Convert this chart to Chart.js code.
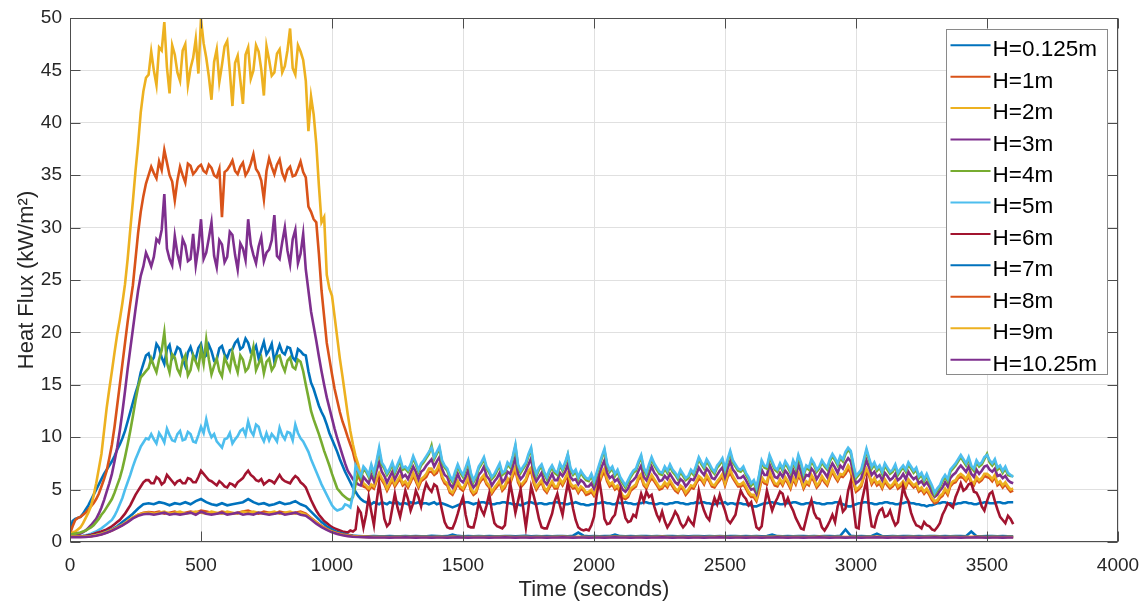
<!DOCTYPE html>
<html>
<head>
<meta charset="utf-8">
<title>Heat Flux</title>
<script src="https://cdn.jsdelivr.net/npm/chart.js@4.4.1/dist/chart.umd.min.js"></script>
<style>
  html, body { margin: 0; padding: 0; background: #ffffff; }
  #wrap { position: relative; width: 1145px; height: 603px; }
</style>
</head>
<body>
<div id="wrap"><canvas id="c" width="1145" height="603"></canvas></div>
<script>
// Main readings every 20 s (0..3600 s); the noisy gauges also carry a reading
// half way between, every 20 s from 10 s to 3590 s
const times = Array.from({ length: 181 }, (_, i) => i * 20);
const midTimes = Array.from({ length: 180 }, (_, j) => j * 20 + 10);

const xTicks = [0, 500, 1000, 1500, 2000, 2500, 3000, 3500, 4000];
const yTicks = [0, 5, 10, 15, 20, 25, 30, 35, 40, 45, 50];

const seriesLabels = ['H=0.125m', 'H=1m', 'H=2m', 'H=3m', 'H=4m', 'H=5m',
                      'H=6m', 'H=7m', 'H=8m', 'H=9m', 'H=10.25m'];

// ---- heat flux readings (kW/m²) ----
const h0125 = [
  0.8, 2.2, 2.4, 3.1, 4.0, 5.0, 6.0, 6.9, 7.7, 8.8,
  9.9, 11.5, 13.3, 15.0, 17.0, 18.0, 17.6, 18.5, 17.0, 18.8,
  17.9, 18.4, 16.8, 18.6, 17.5, 18.9, 17.8, 18.2, 17.4, 18.7,
  17.6, 18.4, 19.3, 18.6, 19.0, 18.2, 17.5, 19.1, 18.3, 17.2,
  18.8, 17.9, 18.5, 17.3, 18.2, 17.8, 15.2, 13.8, 12.4, 11.2,
  9.8, 8.6, 7.3, 6.2, 5.2, 4.4, 3.9, 3.7, 3.8, 3.6,
  3.7, 3.8, 3.7, 3.6, 3.7, 3.8, 3.7, 3.6, 3.7, 3.7,
  3.6, 3.7, 3.5, 3.3, 3.5, 3.7, 3.8, 3.6, 3.7, 3.8,
  3.7, 3.6, 3.7, 3.8, 3.7, 3.6, 3.5, 3.7, 3.8, 3.6,
  3.7, 3.6, 3.7, 3.8, 3.7, 3.6, 3.7, 3.7, 3.6, 3.5,
  3.6, 3.7, 3.8, 3.7, 3.6, 3.7, 3.8, 3.7, 3.6, 3.7,
  3.8, 3.7, 3.6, 3.7, 3.6, 3.7, 3.8, 3.7, 3.6, 3.7,
  3.7, 3.8, 3.7, 3.6, 3.7, 3.8, 3.7, 3.6, 3.7, 3.6,
  3.5, 3.4, 3.6, 3.7, 3.8, 3.7, 3.6, 3.7, 3.8, 3.7,
  3.6, 3.7, 3.8, 3.7, 3.6, 3.7, 3.8, 3.7, 3.5, 3.4,
  3.6, 3.7, 3.8, 3.7, 3.6, 3.7, 3.8, 3.7, 3.6, 3.7,
  3.8, 3.7, 3.6, 3.5, 3.5, 3.6, 3.7, 3.8, 3.7, 3.6,
  3.7, 3.8, 3.7, 3.6, 3.7, 3.8, 3.7, 3.8, 3.7, 3.8,
  3.8
];
const h0125Mid = [
  2.0, 2.3, 2.7, 3.5, 4.5, 5.5, 6.5, 7.3, 8.2, 9.3,
  10.6, 12.4, 14.2, 16.2, 17.8, 17.2, 18.9, 17.6, 18.4, 17.5,
  18.6, 17.5, 18.1, 17.8, 18.5, 17.6, 18.8, 17.3, 18.5, 17.9,
  18.3, 19.0, 18.4, 19.4, 18.1, 18.7, 18.3, 17.9, 18.9, 18.1,
  18.1, 18.6, 17.6, 18.4, 17.9, 16.3, 14.6, 13.0, 11.9, 10.4,
  9.2, 7.9, 6.7, 5.7, 4.8, 4.1, 3.8, 3.6, 3.7, 3.8,
  3.6, 3.7, 3.8, 3.7, 3.6, 3.7, 3.8, 3.7, 3.6, 3.8,
  3.7, 3.6, 3.4, 3.4, 3.6, 3.8, 3.7, 3.7, 3.8, 3.7,
  3.6, 3.7, 3.8, 3.7, 3.6, 3.6, 3.6, 3.8, 3.7, 3.7,
  3.6, 3.7, 3.8, 3.7, 3.6, 3.7, 3.8, 3.6, 3.5, 3.6,
  3.7, 3.8, 3.7, 3.6, 3.8, 3.7, 3.7, 3.6, 3.7, 3.8,
  3.7, 3.6, 3.7, 3.6, 3.7, 3.8, 3.7, 3.6, 3.7, 3.8,
  3.8, 3.7, 3.6, 3.7, 3.7, 3.6, 3.7, 3.7, 3.6, 3.5,
  3.4, 3.5, 3.7, 3.8, 3.7, 3.6, 3.7, 3.7, 3.8, 3.6,
  3.7, 3.8, 3.7, 3.6, 3.7, 3.7, 3.8, 3.6, 3.4, 3.5,
  3.7, 3.8, 3.7, 3.6, 3.7, 3.8, 3.7, 3.6, 3.7, 3.8,
  3.7, 3.6, 3.5, 3.4, 3.5, 3.7, 3.8, 3.7, 3.6, 3.7,
  3.8, 3.7, 3.6, 3.7, 3.8, 3.7, 3.7, 3.8, 3.7, 3.8
];

const h1 = [
  0.8, 2.1, 2.4, 2.8, 3.4, 4.1, 5.3, 6.8, 9.3, 13.0,
  17.0, 21.0, 24.5, 29.5, 33.0, 35.0, 35.2, 36.3, 37.4, 35.0,
  32.6, 35.8, 34.3, 35.9, 35.4, 36.0, 35.2, 35.7, 34.8, 31.0,
  35.5, 36.4, 35.1, 36.2, 35.4, 37.0, 35.2, 32.7, 36.6, 35.1,
  36.5, 34.6, 35.8, 35.0, 36.3, 34.8, 31.5, 30.5, 24.0, 19.0,
  16.0, 13.5, 11.5, 10.0, 8.6, 6.3, 5.3, 4.9, 5.1, 6.3,
  5.5, 5.4, 5.3, 6.0, 5.6, 5.7, 5.8, 5.8, 6.2, 6.7,
  6.6, 6.1, 5.4, 4.5, 5.6, 4.9, 6.0, 4.5, 5.5, 6.1,
  5.2, 5.0, 5.7, 5.2, 5.6, 6.9, 5.2, 5.8, 6.8, 5.0,
  5.7, 4.7, 5.6, 5.1, 5.4, 6.3, 5.1, 4.7, 4.9, 4.6,
  4.4, 5.6, 6.7, 5.3, 5.0, 4.7, 4.1, 4.9, 5.3, 6.2,
  5.1, 6.1, 5.4, 5.1, 5.2, 5.3, 4.7, 5.0, 4.8, 5.1,
  6.0, 5.5, 5.8, 5.2, 5.9, 5.4, 6.6, 5.7, 5.3, 5.1,
  4.3, 3.9, 6.0, 5.5, 5.9, 5.3, 5.4, 5.6, 6.0, 6.3,
  5.1, 5.4, 5.8, 5.5, 5.7, 6.1, 6.2, 6.3, 6.5, 6.6,
  4.8, 5.3, 6.7, 5.5, 5.4, 5.1, 5.4, 5.3, 5.1, 5.6,
  5.8, 5.2, 4.8, 4.6, 4.5, 3.7, 4.2, 4.9, 5.3, 5.7,
  6.2, 5.8, 5.6, 6.0, 5.9, 6.2, 5.8, 5.4, 5.2, 5.1,
  4.9
];
const h1Mid = [
  1.5, 2.3, 2.6, 3.1, 3.7, 4.6, 6.0, 8.0, 11.0, 15.0,
  19.0, 22.8, 27.0, 31.5, 34.2, 35.8, 34.7, 35.5, 36.2, 34.4,
  34.5, 35.0, 36.1, 35.1, 35.8, 35.4, 36.0, 35.0, 35.6, 35.3,
  35.9, 35.4, 35.8, 35.0, 36.1, 35.6, 34.5, 35.4, 35.8, 36.0,
  35.2, 35.5, 34.9, 35.6, 35.3, 32.0, 30.8, 27.5, 21.5, 17.5,
  14.6, 12.4, 10.8, 9.3, 7.6, 5.8, 5.2, 5.3, 5.8, 5.9,
  4.9, 5.9, 5.7, 5.4, 5.2, 6.3, 5.2, 6.0, 6.7, 6.4,
  7.2, 5.6, 4.7, 5.0, 5.1, 5.4, 4.9, 4.7, 5.9, 5.5,
  4.6, 5.3, 4.9, 5.8, 6.3, 5.7, 5.5, 6.5, 5.6, 5.4,
  5.0, 5.2, 5.1, 5.8, 5.9, 5.4, 5.2, 5.1, 4.5, 4.8,
  4.9, 6.3, 5.8, 5.5, 5.2, 4.2, 4.3, 5.1, 6.0, 5.4,
  5.7, 5.8, 5.0, 5.5, 5.7, 4.9, 5.2, 4.5, 5.2, 5.6,
  5.9, 6.2, 5.3, 5.6, 6.3, 6.2, 6.1, 5.3, 5.5, 4.6,
  4.3, 4.8, 5.6, 6.6, 5.4, 5.8, 6.0, 5.1, 5.5, 5.9,
  5.6, 6.2, 5.2, 6.1, 5.4, 6.7, 5.8, 6.2, 7.0, 5.7,
  5.0, 6.2, 6.3, 5.9, 5.6, 5.8, 5.1, 5.7, 5.3, 5.2,
  5.5, 5.4, 5.0, 4.9, 4.0, 3.8, 4.4, 4.5, 5.6, 6.1,
  6.1, 6.3, 5.4, 5.7, 6.3, 6.1, 6.2, 5.6, 5.5, 4.8
];

const h2 = [
  0.8, 1.0, 1.4, 2.3, 3.4, 5.6, 8.4, 12.8, 16.3, 19.8,
  22.8, 27.0, 32.5, 38.0, 43.0, 44.6, 45.0, 47.2, 49.6, 42.8,
  46.5, 44.0, 47.5, 45.2, 48.0, 49.9, 46.2, 42.2, 47.0, 45.5,
  47.8, 41.6, 46.4, 41.8, 47.2, 45.0, 46.8, 42.6, 46.0, 44.8,
  47.0, 45.4, 49.0, 44.6, 46.8, 44.0, 42.5, 38.0, 30.5, 25.5,
  23.5, 19.5, 15.8, 12.2, 9.3, 7.4, 5.6, 5.1, 5.3, 6.6,
  5.7, 5.6, 5.5, 6.3, 5.8, 5.9, 6.0, 6.0, 6.5, 7.0,
  6.9, 6.3, 5.6, 4.7, 5.8, 5.1, 6.2, 4.7, 5.7, 6.4,
  5.4, 5.2, 5.9, 5.4, 5.8, 7.2, 5.4, 6.0, 7.1, 5.2,
  5.9, 4.9, 5.8, 5.3, 5.6, 6.6, 5.3, 4.9, 5.1, 4.8,
  4.6, 5.8, 7.0, 5.5, 5.2, 4.9, 4.3, 5.1, 5.5, 6.5,
  5.3, 6.4, 5.6, 5.3, 5.4, 5.5, 4.9, 5.2, 5.0, 5.3,
  6.3, 5.7, 6.0, 5.4, 6.1, 5.6, 6.9, 5.9, 5.5, 5.3,
  4.5, 4.1, 6.2, 5.7, 6.1, 5.5, 5.6, 5.8, 6.2, 6.6,
  5.3, 5.6, 6.0, 5.7, 5.9, 6.3, 6.4, 6.5, 6.8, 6.9,
  5.0, 5.5, 7.0, 5.7, 5.6, 5.3, 5.6, 5.5, 5.3, 5.8,
  6.0, 5.4, 5.0, 4.8, 4.7, 3.9, 4.4, 5.1, 5.5, 5.9,
  6.5, 6.0, 5.8, 6.2, 6.1, 6.5, 6.0, 5.6, 5.4, 5.3,
  5.1
];
const h2Mid = [
  0.9, 1.2, 1.8, 2.8, 4.4, 7.0, 10.6, 14.6, 18.1, 21.2,
  24.6, 29.8, 35.4, 41.0, 44.3, 46.8, 43.6, 46.9, 45.3, 47.4,
  44.8, 46.9, 43.6, 46.2, 44.7, 47.6, 44.4, 45.8, 43.9, 47.3,
  44.9, 45.7, 44.1, 46.5, 44.2, 47.4, 45.1, 47.3, 44.5, 46.6,
  44.8, 46.9, 45.2, 47.4, 46.0, 39.2, 40.8, 34.0, 31.0, 24.2,
  21.5, 17.5, 14.0, 10.6, 8.2, 6.3, 5.4, 5.5, 6.0, 6.1,
  5.1, 6.1, 5.9, 5.6, 5.4, 6.6, 5.4, 6.2, 7.0, 6.6,
  7.5, 5.8, 4.9, 5.2, 5.3, 5.6, 5.1, 4.9, 6.1, 5.7,
  4.8, 5.5, 5.1, 6.1, 6.6, 5.9, 5.7, 6.8, 5.8, 5.6,
  5.2, 5.4, 5.3, 6.0, 6.1, 5.6, 5.4, 5.3, 4.7, 5.0,
  5.1, 6.6, 6.0, 5.7, 5.4, 4.4, 4.5, 5.3, 6.2, 5.6,
  5.9, 6.0, 5.2, 5.7, 5.9, 5.1, 5.4, 4.7, 5.4, 5.8,
  6.1, 6.4, 5.5, 5.8, 6.5, 6.4, 6.3, 5.5, 5.7, 4.8,
  4.5, 5.0, 5.8, 6.8, 5.6, 6.0, 6.2, 5.3, 5.7, 6.1,
  5.8, 6.4, 5.4, 6.3, 5.6, 6.9, 6.0, 6.4, 7.3, 5.9,
  5.2, 6.4, 6.5, 6.1, 5.8, 6.0, 5.3, 5.9, 5.5, 5.4,
  5.7, 5.6, 5.2, 5.1, 4.2, 4.0, 4.6, 4.7, 5.8, 6.3,
  6.3, 6.5, 5.6, 5.9, 6.5, 6.3, 6.4, 5.8, 5.7, 5.0
];

const h3 = [
  0.5, 0.6, 0.8, 1.1, 1.6, 2.2, 3.3, 4.8, 6.5, 9.0,
  12.4, 16.5, 20.3, 24.0, 26.3, 27.0, 27.2, 28.6, 33.2, 27.0,
  29.2, 26.5, 28.3, 27.0, 26.4, 30.8, 27.6, 30.5, 26.2, 28.4,
  27.2, 29.3, 26.0, 28.0, 30.8, 27.4, 28.2, 26.8, 27.9, 31.2,
  27.0, 30.0, 26.5, 29.8, 27.5, 26.0, 22.0, 19.2, 16.3, 13.8,
  11.8, 9.9, 8.3, 6.8, 6.0, 5.5, 6.2, 5.6, 5.8, 7.6,
  6.3, 6.2, 6.0, 7.0, 6.4, 6.6, 6.7, 6.7, 7.3, 7.9,
  7.7, 7.0, 6.2, 5.2, 6.5, 5.7, 6.9, 5.2, 6.4, 7.2,
  6.0, 5.8, 6.6, 6.0, 6.5, 8.1, 6.0, 6.8, 8.0, 5.8,
  6.6, 5.5, 6.5, 5.9, 6.3, 7.4, 5.9, 5.5, 5.7, 5.3,
  5.1, 6.5, 7.8, 6.1, 5.8, 5.5, 4.8, 5.7, 6.2, 7.3,
  5.9, 7.2, 6.3, 5.9, 6.0, 6.1, 5.5, 5.8, 5.6, 5.9,
  7.1, 6.4, 6.7, 6.0, 6.8, 6.2, 7.7, 6.6, 6.1, 5.9,
  5.0, 4.6, 6.9, 6.4, 6.8, 6.1, 6.2, 6.5, 6.9, 7.4,
  5.9, 6.3, 6.7, 6.4, 6.6, 7.0, 7.1, 7.3, 7.6, 7.7,
  5.6, 6.1, 7.8, 6.4, 6.2, 5.9, 6.3, 6.1, 5.9, 6.5,
  6.7, 6.0, 5.6, 5.4, 5.3, 4.3, 4.9, 5.7, 6.1, 6.6,
  7.3, 6.7, 6.5, 6.9, 6.8, 7.3, 6.7, 6.3, 6.1, 5.9,
  5.6
];
const h3Mid = [
  0.55, 0.7, 0.95, 1.35, 1.9, 2.7, 4.0, 5.6, 7.7, 10.6,
  14.4, 18.4, 22.2, 25.4, 27.6, 26.3, 28.9, 29.8, 28.0, 26.4,
  27.5, 28.9, 26.8, 29.4, 28.1, 27.0, 29.0, 27.3, 28.8, 26.7,
  29.6, 27.4, 28.5, 26.9, 28.4, 26.6, 29.1, 27.6, 28.8, 27.3,
  28.6, 27.8, 28.9, 26.6, 29.4, 24.0, 20.6, 17.7, 15.0, 12.8,
  10.8, 9.1, 7.5, 6.4, 5.7, 5.4, 5.9, 6.4, 6.8, 6.7,
  5.7, 6.7, 6.5, 6.2, 6.0, 7.2, 6.0, 6.9, 7.6, 7.2,
  8.1, 6.4, 5.5, 5.8, 5.9, 6.2, 5.7, 5.5, 6.7, 6.3,
  5.4, 6.1, 5.7, 6.7, 7.2, 6.5, 6.3, 7.4, 6.4, 6.2,
  5.8, 6.0, 5.9, 6.6, 6.7, 6.2, 6.0, 5.9, 5.3, 5.6,
  5.7, 7.2, 6.6, 6.3, 6.0, 5.0, 5.1, 5.9, 6.8, 6.2,
  6.5, 6.6, 5.8, 6.3, 6.5, 5.7, 6.0, 5.3, 6.0, 6.4,
  6.7, 7.0, 6.1, 6.4, 7.1, 7.0, 6.9, 6.1, 6.3, 5.4,
  5.1, 5.6, 6.4, 7.4, 6.2, 6.6, 6.8, 5.9, 6.3, 6.7,
  6.4, 7.0, 6.0, 6.9, 6.2, 7.5, 6.6, 7.0, 8.0, 6.5,
  5.8, 7.0, 7.1, 6.7, 6.4, 6.6, 5.9, 6.5, 6.1, 6.0,
  6.3, 6.2, 5.8, 5.7, 4.7, 4.5, 5.2, 5.3, 6.4, 7.0,
  7.0, 7.2, 6.2, 6.5, 7.2, 6.9, 7.0, 6.4, 6.3, 5.7
];

const h4 = [
  0.7, 0.8, 0.9, 1.1, 1.4, 1.9, 2.6, 3.3, 4.1, 5.4,
  7.0, 9.3, 12.0, 14.8, 16.0, 16.6, 16.8, 17.4, 20.0, 16.2,
  17.6, 16.0, 17.8, 16.4, 17.2, 18.4, 19.3, 16.0, 17.5, 15.8,
  17.0, 18.1, 16.2, 17.4, 16.6, 18.6, 17.0, 16.1, 17.5, 16.8,
  17.8, 16.3, 17.6, 16.5, 17.2, 15.0, 12.5, 11.0, 9.5, 8.0,
  6.5, 5.1, 4.5, 4.1, 4.3, 6.6, 6.9, 6.2, 6.4, 8.7,
  7.0, 6.8, 6.6, 7.7, 7.0, 7.2, 7.4, 7.3, 8.0, 9.2,
  8.4, 7.6, 6.8, 5.7, 7.2, 6.2, 7.6, 5.7, 7.0, 7.9,
  6.6, 6.3, 7.3, 6.6, 7.1, 9.1, 6.6, 7.4, 8.8, 6.3,
  7.2, 6.0, 7.1, 6.4, 6.8, 8.3, 6.4, 6.0, 6.2, 5.8,
  5.6, 7.2, 8.7, 6.7, 6.3, 6.0, 5.2, 6.2, 6.8, 8.1,
  6.4, 7.9, 6.9, 6.4, 6.6, 6.7, 6.0, 6.3, 6.1, 6.4,
  7.9, 7.0, 7.3, 6.5, 7.4, 6.8, 8.5, 7.2, 6.7, 6.4,
  5.4, 5.0, 7.6, 7.0, 7.5, 6.7, 6.8, 7.1, 7.6, 8.1,
  6.4, 6.9, 7.3, 7.0, 7.2, 7.7, 7.8, 8.0, 8.4, 8.5,
  6.1, 6.7, 8.7, 7.0, 6.8, 6.5, 6.9, 6.7, 6.4, 7.1,
  7.4, 6.6, 6.1, 5.8, 5.7, 4.5, 5.2, 6.2, 6.7, 7.3,
  8.1, 7.3, 7.1, 7.6, 7.4, 8.4, 7.3, 6.9, 6.6, 6.4,
  6.3
];
const h4Mid = [
  0.75, 0.85, 1.0, 1.25, 1.6, 2.2, 2.9, 3.7, 4.7, 6.1,
  8.1, 10.6, 13.5, 15.7, 16.3, 17.5, 16.2, 18.3, 17.1, 17.9,
  16.5, 17.3, 15.9, 17.8, 16.6, 17.0, 17.4, 16.8, 16.3, 17.6,
  16.4, 17.0, 17.8, 16.3, 17.5, 16.4, 17.6, 17.2, 16.4, 17.7,
  16.9, 17.3, 16.7, 17.4, 16.3, 13.8, 11.7, 10.3, 8.7, 7.3,
  5.8, 4.8, 4.3, 4.0, 5.5, 6.1, 6.7, 7.2, 7.5, 7.4,
  6.4, 7.4, 7.2, 6.9, 6.7, 8.0, 6.7, 7.6, 8.4, 7.9,
  8.9, 7.1, 6.1, 6.5, 6.6, 6.9, 6.4, 6.2, 7.4, 7.0,
  6.0, 6.8, 6.4, 7.4, 8.0, 7.2, 7.0, 8.2, 7.1, 6.9,
  6.5, 6.7, 6.6, 7.3, 7.4, 6.9, 6.7, 6.6, 5.9, 6.3,
  6.4, 8.0, 7.3, 7.0, 6.7, 5.6, 5.7, 6.6, 7.5, 6.9,
  7.2, 7.3, 6.5, 7.0, 7.2, 6.4, 6.7, 5.9, 6.7, 7.1,
  7.4, 7.7, 6.8, 7.1, 7.8, 7.7, 7.6, 6.8, 7.0, 6.0,
  5.7, 6.2, 7.1, 8.1, 6.9, 7.3, 7.5, 6.6, 7.0, 7.4,
  7.1, 7.7, 6.7, 7.6, 6.9, 8.2, 7.3, 7.7, 8.8, 7.2,
  6.4, 7.7, 7.8, 7.4, 7.1, 7.3, 6.5, 7.2, 6.8, 6.7,
  7.0, 6.9, 6.4, 6.3, 5.2, 4.9, 5.8, 5.8, 7.0, 7.7,
  7.7, 7.9, 6.8, 7.2, 7.9, 7.6, 7.7, 7.1, 7.0, 6.3
];

const h5 = [
  0.5, 0.5, 0.55, 0.65, 0.8, 1.0, 1.3, 1.7, 2.1, 3.0,
  4.2, 5.7, 7.2, 8.5, 9.5, 9.8, 9.8, 10.4, 9.5, 10.2,
  9.6, 10.6, 9.8, 10.3, 9.5, 11.0, 11.7, 10.0, 9.6, 9.0,
  9.9, 9.4, 10.1, 10.8, 11.5, 10.2, 11.0, 9.6, 9.7, 10.0,
  10.9, 9.8, 10.4, 11.2, 9.9, 9.1, 7.9, 6.7, 5.5, 4.5,
  3.5, 3.0, 3.2, 3.5, 4.5, 6.8, 7.2, 6.4, 6.6, 9.0,
  7.2, 7.0, 6.8, 8.0, 7.2, 7.4, 7.6, 7.5, 8.2, 9.0,
  8.6, 7.8, 7.0, 5.9, 7.4, 6.4, 7.8, 5.9, 7.2, 8.1,
  6.8, 6.5, 7.5, 6.8, 7.3, 9.3, 6.8, 7.6, 9.0, 6.5,
  7.4, 6.2, 7.3, 6.6, 7.0, 8.4, 6.6, 6.2, 6.4, 6.0,
  5.8, 7.4, 8.9, 6.9, 6.5, 6.2, 5.4, 6.4, 7.0, 8.3,
  6.6, 8.1, 7.1, 6.6, 6.8, 6.9, 6.2, 6.5, 6.3, 6.6,
  8.1, 7.2, 7.5, 6.7, 7.6, 7.0, 8.7, 7.4, 6.9, 6.6,
  5.6, 5.2, 7.8, 7.2, 7.7, 6.9, 7.0, 7.3, 7.8, 8.3,
  6.6, 7.1, 7.5, 7.2, 7.4, 7.9, 8.0, 8.2, 8.6, 8.7,
  6.3, 6.9, 8.9, 7.2, 7.0, 6.7, 7.1, 6.9, 6.6, 7.3,
  7.6, 6.8, 6.3, 6.0, 5.9, 4.7, 5.4, 6.4, 6.9, 7.5,
  8.3, 7.5, 7.3, 7.8, 7.6, 8.3, 7.5, 7.1, 6.8, 6.6,
  6.2
];
const h5Mid = [
  0.5, 0.52, 0.6, 0.72, 0.9, 1.15, 1.5, 1.9, 2.5, 3.6,
  5.0, 6.4, 7.9, 9.1, 9.9, 10.3, 9.4, 10.0, 10.8, 9.7,
  10.3, 9.7, 10.5, 9.6, 10.2, 10.4, 10.6, 10.3, 9.3, 9.8,
  10.4, 9.8, 10.6, 10.2, 10.6, 11.2, 10.1, 10.4, 10.3, 9.6,
  10.2, 10.5, 9.7, 10.4, 9.6, 8.6, 7.3, 6.1, 5.0, 4.0,
  3.2, 3.1, 3.6, 3.3, 7.3, 6.3, 6.9, 7.4, 7.7, 7.6,
  6.6, 7.6, 7.4, 7.1, 6.9, 8.2, 6.9, 7.8, 8.6, 8.1,
  9.1, 7.3, 6.3, 6.7, 6.8, 7.1, 6.6, 6.4, 7.6, 7.2,
  6.2, 7.0, 6.6, 7.6, 8.2, 7.4, 7.2, 8.4, 7.3, 7.1,
  6.7, 6.9, 6.8, 7.5, 7.6, 7.1, 6.9, 6.8, 6.1, 6.5,
  6.6, 8.2, 7.5, 7.2, 6.9, 5.8, 5.9, 6.8, 7.7, 7.1,
  7.4, 7.5, 6.7, 7.2, 7.4, 6.6, 6.9, 6.1, 6.9, 7.3,
  7.6, 7.9, 7.0, 7.3, 8.0, 7.9, 7.8, 7.0, 7.2, 6.2,
  5.9, 6.4, 7.3, 8.3, 7.1, 7.5, 7.7, 6.8, 7.2, 7.6,
  7.3, 7.9, 6.9, 7.8, 7.1, 8.4, 7.5, 7.9, 9.0, 7.4,
  6.6, 7.9, 8.0, 7.6, 7.3, 7.5, 6.7, 7.4, 7.0, 6.9,
  7.2, 7.1, 6.6, 6.5, 5.4, 5.1, 6.0, 6.0, 7.2, 7.9,
  7.9, 8.1, 7.0, 7.4, 8.1, 7.8, 7.9, 7.3, 7.2, 6.4
];

const h6 = [
  0.5, 0.5, 0.55, 0.6, 0.7, 0.85, 1.0, 1.2, 1.5, 1.9,
  2.4, 3.1, 4.0, 4.9, 5.7, 5.9, 5.6, 6.0, 5.7, 6.1,
  5.5, 5.9, 5.6, 6.0, 5.7, 6.8, 6.2, 5.8, 5.4, 5.6,
  5.2, 5.5, 5.7, 6.1, 6.8, 6.2, 5.8, 5.5, 5.9, 5.6,
  6.4, 5.8, 5.6, 6.3, 5.7, 5.2, 4.0, 3.0, 2.3, 1.8,
  1.4, 1.2, 1.0, 0.9, 1.0, 3.2, 1.4, 4.3, 1.6, 5.6,
  2.2, 1.8, 4.6, 2.4, 4.9, 3.0, 4.9, 3.4, 5.6, 4.8,
  5.3, 3.0, 1.4, 1.3, 2.7, 4.3, 1.5, 1.4, 3.8, 2.6,
  4.6, 1.8, 1.4, 1.6, 5.6, 2.8, 5.0, 1.4, 5.3, 3.4,
  1.4, 1.3, 2.7, 4.6, 2.6, 5.6, 3.2, 1.4, 1.1, 1.1,
  2.4, 5.9, 2.2, 1.8, 2.6, 4.9, 2.3, 2.0, 2.4, 4.6,
  4.8, 4.5, 2.6, 2.9, 1.4, 2.3, 2.5, 1.4, 2.3, 1.6,
  4.9, 3.0, 2.1, 4.2, 4.5, 3.0, 1.8, 2.6, 4.9, 4.1,
  3.8, 1.4, 1.5, 4.9, 3.0, 4.2, 4.6, 4.2, 3.0, 1.8,
  1.2, 3.2, 2.8, 2.2, 1.1, 2.0, 1.9, 4.1, 3.2, 5.8,
  1.4, 3.6, 5.9, 1.5, 2.4, 3.2, 2.5, 2.2, 1.9, 5.3,
  3.9, 2.1, 1.5, 1.9, 1.5, 1.1, 1.8, 3.1, 3.5, 4.3,
  5.6, 5.1, 5.6, 4.7, 3.4, 3.9, 4.8, 3.1, 2.1, 2.5,
  1.7
];
const h6Mid = [
  0.5, 0.52, 0.57, 0.65, 0.77, 0.92, 1.1, 1.35, 1.7, 2.1,
  2.7, 3.5, 4.5, 5.3, 5.9, 5.6, 6.2, 5.5, 6.4, 5.8,
  5.8, 5.6, 6.1, 5.7, 6.2, 6.5, 5.9, 5.6, 5.8, 5.3,
  5.6, 5.3, 5.9, 6.5, 6.4, 5.9, 6.0, 5.7, 5.8, 6.0,
  6.0, 5.7, 6.0, 6.1, 5.5, 4.6, 3.5, 2.6, 2.0, 1.6,
  1.3, 1.1, 0.95, 1.1, 1.2, 2.8, 2.6, 2.9, 3.8, 4.0,
  1.5, 3.2, 3.3, 3.6, 4.1, 3.7, 4.3, 4.7, 5.1, 5.5,
  4.2, 1.9, 1.3, 1.9, 3.6, 2.6, 1.4, 2.4, 3.1, 3.5,
  3.0, 1.5, 1.3, 3.8, 4.3, 3.9, 3.2, 3.3, 4.4, 2.2,
  1.3, 2.0, 3.9, 3.5, 4.2, 4.6, 2.1, 1.2, 1.2, 1.6,
  4.4, 4.3, 1.7, 2.3, 3.9, 3.4, 1.9, 2.6, 3.6, 3.9,
  4.3, 3.4, 2.1, 2.0, 1.8, 2.9, 1.8, 1.7, 1.9, 3.0,
  3.8, 2.4, 3.3, 3.6, 3.7, 2.1, 2.2, 3.9, 4.4, 3.5,
  2.6, 1.2, 3.4, 3.9, 3.7, 4.8, 3.6, 3.5, 2.3, 1.3,
  2.2, 4.0, 2.3, 1.4, 1.5, 2.6, 3.4, 2.9, 4.9, 3.4,
  1.3, 4.8, 3.1, 1.4, 3.0, 2.4, 3.0, 1.6, 3.6, 4.4,
  2.8, 1.6, 1.3, 1.6, 1.2, 1.4, 2.6, 3.7, 3.3, 4.9,
  4.9, 5.5, 4.8, 4.2, 3.0, 4.6, 3.9, 2.4, 1.8, 2.2
];

const h7 = [
  0.5, 0.5, 0.5, 0.55, 0.6, 0.7, 0.8, 1.0, 1.2, 1.5,
  1.9, 2.3, 2.7, 3.2, 3.6, 3.7, 3.6, 3.8, 3.7, 3.5,
  3.7, 3.6, 3.8, 3.6, 3.9, 4.1, 3.8, 3.6, 3.5, 3.7,
  3.5, 3.6, 3.7, 3.8, 4.1, 3.8, 3.6, 3.7, 3.5, 3.6,
  3.8, 3.6, 3.7, 3.9, 3.6, 3.4, 2.9, 2.4, 1.9, 1.5,
  1.2, 0.95, 0.8, 0.7, 0.62, 0.58, 0.55, 0.55, 0.56, 0.55,
  0.55, 0.56, 0.55, 0.55, 0.57, 0.55, 0.56, 0.55, 0.55, 0.58,
  0.56, 0.55, 0.56, 0.7, 0.58, 0.55, 0.56, 0.55, 0.57, 0.55,
  0.56, 0.55, 0.55, 0.57, 0.56, 0.55, 0.56, 0.58, 0.55, 0.56,
  0.55, 0.56, 0.55, 0.57, 0.56, 0.55, 0.6, 0.9, 0.6, 0.55,
  0.56, 0.55, 0.57, 0.56, 0.7, 0.56, 0.55, 0.56, 0.55, 0.57,
  0.56, 0.55, 0.56, 0.55, 0.57, 0.56, 0.55, 0.56, 0.55, 0.56,
  0.57, 0.55, 0.56, 0.55, 0.56, 0.55, 0.57, 0.56, 0.55, 0.56,
  0.55, 0.56, 0.55, 0.57, 0.7, 0.56, 0.55, 0.56, 0.55, 0.57,
  0.56, 0.55, 0.56, 0.55, 0.57, 0.56, 0.55, 0.6, 1.2, 0.6,
  0.55, 0.56, 0.55, 0.57, 0.8, 0.56, 0.55, 0.56, 0.55, 0.57,
  0.56, 0.55, 0.56, 0.55, 0.57, 0.56, 0.55, 0.56, 0.55, 0.56,
  0.57, 0.55, 1.0, 0.56, 0.55, 0.57, 0.56, 0.55, 0.56, 0.55,
  0.55
];

const h8 = [
  0.5, 0.5, 0.5, 0.5, 0.55, 0.65, 0.75, 0.9, 1.1, 1.35,
  1.6, 1.95, 2.3, 2.6, 2.8, 2.85, 2.8, 2.9, 2.7, 2.8,
  2.9, 2.7, 2.8, 2.9, 2.8, 3.0, 2.9, 2.8, 2.7, 2.9,
  2.8, 2.7, 2.8, 2.9, 3.0, 2.8, 2.7, 2.9, 2.8, 2.7,
  2.9, 2.8, 2.7, 2.8, 2.9, 2.7, 2.3, 1.9, 1.55, 1.25,
  1.0, 0.85, 0.72, 0.63, 0.57, 0.52, 0.5, 0.49, 0.48, 0.48,
  0.48, 0.47, 0.48, 0.48, 0.47, 0.48, 0.49, 0.48, 0.47, 0.48,
  0.48, 0.47, 0.48, 0.49, 0.48, 0.47, 0.48, 0.48, 0.47, 0.48,
  0.47, 0.48, 0.48, 0.49, 0.48, 0.47, 0.48, 0.47, 0.48, 0.48,
  0.48, 0.47, 0.48, 0.48, 0.49, 0.48, 0.47, 0.48, 0.48, 0.47,
  0.48, 0.48, 0.47, 0.48, 0.49, 0.48, 0.48, 0.47, 0.48, 0.48,
  0.47, 0.48, 0.48, 0.49, 0.48, 0.47, 0.48, 0.48, 0.47, 0.48,
  0.48, 0.47, 0.48, 0.48, 0.49, 0.48, 0.47, 0.48, 0.48, 0.47,
  0.48, 0.48, 0.47, 0.48, 0.48, 0.49, 0.48, 0.47, 0.48, 0.48,
  0.47, 0.48, 0.48, 0.49, 0.48, 0.47, 0.48, 0.48, 0.47, 0.48,
  0.48, 0.47, 0.48, 0.48, 0.49, 0.48, 0.47, 0.48, 0.48, 0.47,
  0.48, 0.48, 0.47, 0.48, 0.48, 0.49, 0.48, 0.47, 0.48, 0.48,
  0.47, 0.48, 0.48, 0.49, 0.48, 0.47, 0.48, 0.48, 0.47, 0.48,
  0.48
];

const h9 = [
  0.5, 0.5, 0.5, 0.52, 0.56, 0.66, 0.78, 0.95, 1.15, 1.4,
  1.65, 2.0, 2.35, 2.6, 2.75, 2.8, 2.7, 2.8, 2.9, 2.7,
  2.8, 2.9, 2.7, 2.8, 2.9, 2.8, 2.7, 2.9, 2.8, 2.7,
  2.9, 2.8, 2.7, 2.9, 2.8, 2.9, 2.8, 2.7, 2.8, 2.9,
  2.7, 2.8, 2.9, 2.7, 2.8, 2.6, 2.25, 1.85, 1.5, 1.2,
  0.98, 0.82, 0.7, 0.61, 0.55, 0.51, 0.49, 0.48, 0.47, 0.47,
  0.47, 0.46, 0.47, 0.47, 0.48, 0.47, 0.46, 0.47, 0.47, 0.46,
  0.47, 0.47, 0.46, 0.47, 0.48, 0.47, 0.46, 0.47, 0.47, 0.47,
  0.46, 0.47, 0.47, 0.48, 0.47, 0.46, 0.47, 0.47, 0.46, 0.47,
  0.47, 0.46, 0.47, 0.47, 0.48, 0.47, 0.46, 0.47, 0.47, 0.46,
  0.47, 0.47, 0.46, 0.47, 0.48, 0.47, 0.47, 0.46, 0.47, 0.47,
  0.46, 0.47, 0.47, 0.48, 0.47, 0.46, 0.47, 0.47, 0.46, 0.47,
  0.47, 0.46, 0.47, 0.47, 0.48, 0.47, 0.46, 0.47, 0.47, 0.46,
  0.47, 0.47, 0.46, 0.47, 0.47, 0.48, 0.47, 0.46, 0.47, 0.47,
  0.46, 0.47, 0.47, 0.48, 0.47, 0.46, 0.47, 0.47, 0.46, 0.47,
  0.47, 0.46, 0.47, 0.47, 0.48, 0.47, 0.46, 0.47, 0.47, 0.46,
  0.47, 0.47, 0.46, 0.47, 0.47, 0.48, 0.47, 0.46, 0.47, 0.47,
  0.46, 0.47, 0.47, 0.48, 0.47, 0.46, 0.47, 0.47, 0.46, 0.47,
  0.47
];

const h1025 = [
  0.45, 0.45, 0.46, 0.48, 0.52, 0.6, 0.72, 0.88, 1.08, 1.32,
  1.58, 1.9, 2.25, 2.5, 2.65, 2.7, 2.6, 2.7, 2.8, 2.6,
  2.7, 2.6, 2.7, 2.8, 2.6, 2.9, 2.7, 2.6, 2.7, 2.8,
  2.6, 2.7, 2.8, 2.6, 2.7, 2.6, 2.8, 2.7, 2.6, 2.7,
  2.8, 2.6, 2.7, 2.8, 2.6, 2.5, 2.15, 1.75, 1.42, 1.15,
  0.92, 0.76, 0.64, 0.56, 0.5, 0.47, 0.45, 0.44, 0.43, 0.43,
  0.43, 0.42, 0.43, 0.43, 0.44, 0.43, 0.42, 0.43, 0.43, 0.42,
  0.43, 0.43, 0.42, 0.43, 0.44, 0.43, 0.42, 0.43, 0.43, 0.43,
  0.42, 0.43, 0.43, 0.44, 0.43, 0.42, 0.43, 0.43, 0.42, 0.43,
  0.43, 0.42, 0.43, 0.43, 0.44, 0.43, 0.42, 0.43, 0.43, 0.42,
  0.43, 0.43, 0.42, 0.43, 0.44, 0.43, 0.43, 0.42, 0.43, 0.43,
  0.42, 0.43, 0.43, 0.44, 0.43, 0.42, 0.43, 0.43, 0.42, 0.43,
  0.43, 0.42, 0.43, 0.43, 0.44, 0.43, 0.42, 0.43, 0.43, 0.42,
  0.43, 0.43, 0.42, 0.43, 0.43, 0.44, 0.43, 0.42, 0.43, 0.43,
  0.42, 0.43, 0.43, 0.44, 0.43, 0.42, 0.43, 0.43, 0.42, 0.43,
  0.43, 0.42, 0.43, 0.43, 0.44, 0.43, 0.42, 0.43, 0.43, 0.42,
  0.43, 0.43, 0.42, 0.43, 0.43, 0.44, 0.43, 0.42, 0.43, 0.43,
  0.42, 0.43, 0.43, 0.44, 0.43, 0.42, 0.43, 0.43, 0.42, 0.43,
  0.43
];

const seriesMain = [h0125, h1, h2, h3, h4, h5, h6, h7, h8, h9, h1025];
const seriesMid = [h0125Mid, h1Mid, h2Mid, h3Mid, h4Mid, h5Mid, h6Mid, null, null, null, null];

// Default MATLAB line colour order, cycling after the seventh entry
const seriesColors = ['#0072BD', '#D95319', '#EDB120', '#7E2F8E', '#77AC30', '#4DBEEE',
                      '#A2142F', '#0072BD', '#D95319', '#EDB120', '#7E2F8E'];

const FONT = '"Liberation Sans", Arial, Helvetica, sans-serif';
const INK = '#262626';

function buildPoints(main, mid) {
  const pts = [];
  main.forEach((v, k) => {
    pts.push({ x: times[k], y: v });
    if (mid && k < mid.length) pts.push({ x: midTimes[k], y: mid[k] });
  });
  return pts;
}

// Axes box, inward tick marks and the boxed legend in the upper right corner
const framePlugin = {
  id: 'frame',
  afterDraw(chart) {
    const { ctx, chartArea: a, scales: { x, y } } = chart;
    ctx.save();
    ctx.strokeStyle = '#4d4d4d';
    ctx.lineWidth = 1;
    ctx.beginPath();
    const L = Math.round(a.left) + 0.5, R = Math.round(a.right) - 0.5;
    const T = Math.round(a.top) + 0.5, B = Math.round(a.bottom) - 0.5;
    xTicks.forEach(v => {
      const px = Math.round(x.getPixelForValue(v)) + 0.5;
      ctx.moveTo(px, B); ctx.lineTo(px, B - 10);
      ctx.moveTo(px, T); ctx.lineTo(px, T + 10);
    });
    yTicks.forEach(v => {
      const py = Math.round(y.getPixelForValue(v)) + 0.5;
      ctx.moveTo(L, py); ctx.lineTo(L + 10, py);
      ctx.moveTo(R, py); ctx.lineTo(R - 10, py);
    });
    ctx.stroke();
    ctx.strokeRect(L, T, R - L, B - T);

    // legend
    const boxW = 161, boxH = 345, rowH = 31.45;
    const bx = Math.round(a.right - 11 - boxW) + 0.5;
    const by = Math.round(a.top + 11) + 0.5;
    ctx.fillStyle = '#ffffff';
    ctx.fillRect(bx, by, boxW, boxH);
    ctx.strokeStyle = '#8a8a8a';
    ctx.lineWidth = 1;
    ctx.strokeRect(bx, by, boxW, boxH);
    ctx.font = '22.5px ' + FONT;
    ctx.textAlign = 'left';
    ctx.textBaseline = 'alphabetic';
    chart.data.datasets.forEach((ds, i) => {
      const cy = by + 15.7 + i * rowH;
      ctx.strokeStyle = ds.borderColor;
      ctx.lineWidth = 2;
      ctx.beginPath();
      ctx.moveTo(bx + 4, cy);
      ctx.lineTo(bx + 44, cy);
      ctx.stroke();
      ctx.fillStyle = '#000000';
      ctx.fillText(ds.label, bx + 46, cy + 11);
    });
    ctx.restore();
  }
};

new Chart(document.getElementById('c'), {
  type: 'line',
  data: {
    datasets: seriesMain.map((vals, i) => ({
      label: seriesLabels[i],
      data: buildPoints(vals, seriesMid[i]),
      borderColor: seriesColors[i],
      backgroundColor: seriesColors[i],
      borderWidth: 2.6,
      pointRadius: 0,
      tension: 0,
      fill: false,
      // later series are drawn over earlier ones
      order: seriesMain.length - i
    }))
  },
  options: {
    responsive: false,
    animation: false,
    devicePixelRatio: 1,
    layout: { padding: { left: 0, right: 27, top: 18, bottom: 0 } },
    plugins: { legend: { display: false }, tooltip: { enabled: false } },
    scales: {
      x: {
        type: 'linear', min: 0, max: 4000,
        afterBuildTicks: s => { s.ticks = xTicks.map(v => ({ value: v })); },
        afterFit: s => { s.height = 61; s.paddingLeft = 0; s.paddingRight = 0; },
        ticks: {
          callback: v => String(v), padding: 12, color: INK, maxRotation: 0, autoSkip: false,
          font: { family: FONT, size: 19 }
        },
        grid: { color: '#e0e0e0', drawTicks: false, lineWidth: 1 },
        border: { display: false },
        title: {
          display: true, text: 'Time (seconds)', color: INK,
          font: { family: FONT, size: 22 }, padding: { top: 0, bottom: 0 }
        }
      },
      y: {
        min: 0, max: 50,
        afterBuildTicks: s => { s.ticks = yTicks.map(v => ({ value: v })); },
        afterFit: s => { s.width = 70; s.paddingTop = 0; s.paddingBottom = 0; },
        ticks: {
          callback: v => String(v), padding: 8, color: INK,
          font: { family: FONT, size: 19 }
        },
        grid: { color: '#e0e0e0', drawTicks: false, lineWidth: 1 },
        border: { display: false },
        title: {
          display: true, text: 'Heat Flux (kW/m²)', color: INK,
          font: { family: FONT, size: 22 }, padding: { top: 14, bottom: 0 }
        }
      }
    }
  },
  plugins: [framePlugin]
});
</script>
</body>
</html>
